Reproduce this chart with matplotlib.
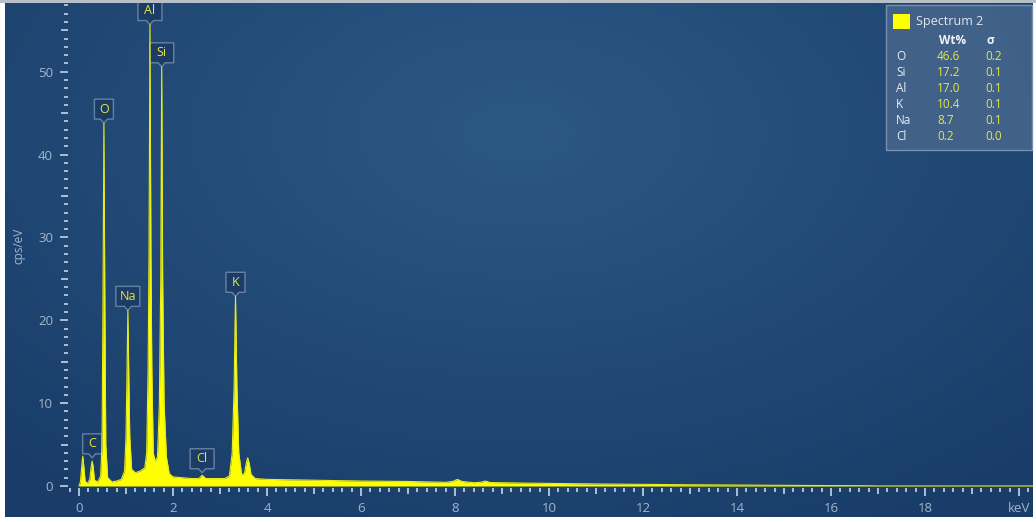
import numpy as np
import matplotlib.pyplot as plt
from matplotlib.path import Path
from matplotlib.patches import PathPatch, Rectangle
from matplotlib.transforms import ScaledTranslation, Affine2D, blended_transform_factory
from matplotlib.ticker import MultipleLocator, FuncFormatter

plt.rcParams['font.family'] = ['Open Sans', 'DejaVu Sans']

# spectrum (keV, cps/eV)
energy = [0.00, 0.03, 0.06, 0.08, 0.10, 0.13, 0.18, 0.23, 0.26, 0.28, 0.30, 0.33,
          0.40, 0.46, 0.49, 0.51, 0.53, 0.55, 0.57, 0.61, 0.70, 0.80, 0.90, 0.97,
          1.00, 1.02, 1.04, 1.06, 1.08, 1.12, 1.20, 1.30, 1.40, 1.44, 1.47, 1.49,
          1.51, 1.53, 1.55, 1.58, 1.62, 1.67, 1.71, 1.74, 1.76, 1.78, 1.81, 1.86,
          1.92, 2.00, 2.20, 2.40, 2.55, 2.62, 2.70, 2.90, 3.10, 3.20, 3.26, 3.30,
          3.33, 3.36, 3.40, 3.46, 3.52, 3.56, 3.59, 3.62, 3.66, 3.75, 4.00, 5.00,
          6.00, 7.00, 7.80, 7.95, 8.05, 8.15, 8.40, 8.55, 8.65, 8.75, 9.50, 11.0,
          13.0, 15.0, 16.8, 17.0, 20.3]
counts = [0.0, 0.5, 2.5, 3.6, 2.5, 0.6, 0.3, 0.8, 2.4, 3.0, 2.4, 0.7,
          0.5, 1.2, 5.0, 22.0, 43.8, 22.0, 5.0, 1.0, 0.5, 0.6, 0.8, 1.8,
          6.0, 13.0, 21.2, 13.0, 6.0, 2.0, 1.6, 1.8, 2.2, 4.0, 14.0, 28.0,
          55.7, 28.0, 14.0, 4.0, 3.0, 3.5, 10.0, 25.0, 50.6, 25.0, 10.0, 3.5,
          1.5, 1.1, 1.0, 0.9, 0.9, 1.3, 0.9, 0.9, 0.9, 1.2, 4.0, 12.0,
          22.9, 12.0, 4.0, 1.4, 1.5, 2.8, 3.4, 2.8, 1.4, 0.9, 0.8, 0.7,
          0.6, 0.55, 0.45, 0.55, 0.8, 0.55, 0.4, 0.45, 0.6, 0.42, 0.35, 0.25,
          0.15, 0.08, 0.03, 0.0, 0.0]

# peak labels
peak_names = ['C', 'O', 'Na', 'Al', 'Si', 'Cl', 'K']
peak_kev = [0.28, 0.53, 1.04, 1.51, 1.76, 2.62, 3.33]
peak_top = [3.4, 43.8, 21.2, 55.7, 50.6, 1.6, 22.9]

# quantification table
elements = ['O', 'Si', 'Al', 'K', 'Na', 'Cl']
wt_pct = ['46.6', '17.2', '17.0', '10.4', '8.7', '0.2']
sigma = ['0.2', '0.1', '0.1', '0.1', '0.1', '0.0']

W, H = 1036, 522
fig = plt.figure(figsize=(W / 100, H / 100), dpi=100, facecolor='white')


def fx(px):
    return px / W


def fy(py):
    return 1 - py / H


# background panel with a soft radial gradient
bg = fig.add_axes([fx(5), fy(517), fx(1033 - 5), (517 - 3) / H])
bg.set_axis_off()
gx, gy = np.meshgrid(np.linspace(0, 1, 300), np.linspace(0, 1, 150))
r = np.clip(np.sqrt(((gx - 0.5) / 0.75) ** 2 + ((gy - 0.25) / 0.9) ** 2), 0, 1)
inner = np.array([44, 88, 134]) / 255
outer = np.array([25, 60, 104]) / 255
img = inner[None, None, :] * (1 - r[..., None]) + outer[None, None, :] * r[..., None]
bg.imshow(img, extent=[0, 1, 0, 1], aspect='auto', origin='upper')
fig.patches.append(Rectangle((0, fy(3)), 1, 3 / H, transform=fig.transFigure,
                             facecolor='#b9bfc7', edgecolor='none'))

ax = fig.add_axes([fx(68), fy(488), fx(1033 - 68), (488 - 3) / H])
ax.patch.set_alpha(0)
for s in ax.spines.values():
    s.set_visible(False)

ax.fill_between(energy, 0, counts, color='#ffff00', lw=0)
ax.plot(energy, counts, color='#e6ec1a', lw=0.8)

ax.set_xlim(-0.234, 20.3)
ax.set_ylim(-0.24, 58.3)

tick_c = '#aebfd3'
lab_c = '#a3b6cc'
ax.xaxis.set_major_locator(MultipleLocator(2))
ax.xaxis.set_minor_locator(MultipleLocator(0.2))
ax.yaxis.set_major_locator(MultipleLocator(10))
ax.yaxis.set_minor_locator(MultipleLocator(1))
ax.xaxis.set_major_formatter(FuncFormatter(lambda v, p: 'keV' if abs(v - 20) < 1e-6 else f'{v:.0f}'))
ax.tick_params(which='major', length=5.8, width=1.4, color=tick_c, labelcolor=lab_c,
               labelsize=9.5)
ax.tick_params(axis='x', which='major', pad=4.5)
ax.tick_params(axis='y', which='major', pad=5)
ax.tick_params(which='minor', length=2.9, width=1.4, color=tick_c)

# medium ticks at odd keV and every 5 cps/eV
tb = blended_transform_factory(ax.transData, ax.transAxes)
mx = np.arange(1, 20, 2)
ax.plot(mx, np.zeros_like(mx), ls='', marker=[(0, 0), (0, -1)], ms=8.4, mew=1.4,
        color=tick_c, transform=tb, clip_on=False)
tl = blended_transform_factory(ax.transAxes, ax.transData)
my = np.arange(5, 60, 10)
ax.plot(np.zeros_like(my), my, ls='', marker=[(0, 0), (-1, 0)], ms=10.8, mew=1.4,
        color=tick_c, transform=tl, clip_on=False)

ax.set_ylabel('cps/eV', color=lab_c, fontsize=8.5, labelpad=9)

# peak callouts (vertices in pixels, anchored at the peak apex)
for name, xk, yk in zip(peak_names, peak_kev, peak_top):
    w = 19 if len(name) == 1 else 24
    h = 20
    b = 4
    verts = [(-w / 2, b), (-3.5, b), (0, 0), (3.5, b), (w / 2, b), (w / 2, b + h),
             (-w / 2, b + h), (-w / 2, b)]
    tr = Affine2D() + ScaledTranslation(xk, yk, ax.transData)
    ax.add_patch(PathPatch(Path(verts, closed=True), transform=tr, facecolor='#1c3c66',
                           edgecolor='#6a85a6', lw=1.0, alpha=0.95, clip_on=False))
    ax.text(0, b + h / 2, name, transform=tr, ha='center', va='center',
            color='#e4e83c', fontsize=9, clip_on=False)

# legend / quant table
fig.patches.append(Rectangle((fx(886), fy(150)), fx(1032 - 886), (150 - 5) / H,
                             transform=fig.transFigure, facecolor='#44648a',
                             edgecolor='#7f96b3', lw=1.0, alpha=0.92))
fig.patches.append(Rectangle((fx(893), fy(29)), fx(17), 15 / H, transform=fig.transFigure,
                             facecolor='#ffff00', edgecolor='none'))
fig.text(fx(916), fy(21), 'Spectrum 2', color='#e2e8ef', fontsize=9, va='center')
fig.text(fx(953), fy(41), 'Wt%', color='#f0f4f8', fontsize=8.5, weight='bold',
         va='center', ha='center')
fig.text(fx(990), fy(41), 'σ', color='#f0f4f8', fontsize=8.5, weight='bold',
         va='center', ha='center')
for i, (el, wv, sv) in enumerate(zip(elements, wt_pct, sigma)):
    yy = fy(57 + i * 15.8)
    fig.text(fx(896), yy, el, color='#e8eef5', fontsize=8.5, va='center')
    fig.text(fx(937), yy, wv, color='#e2e84a', fontsize=8.5, va='center')
    fig.text(fx(985), yy, sv, color='#e2e84a', fontsize=8.5, va='center')

fig.savefig('out.png', dpi=100, facecolor='white')
